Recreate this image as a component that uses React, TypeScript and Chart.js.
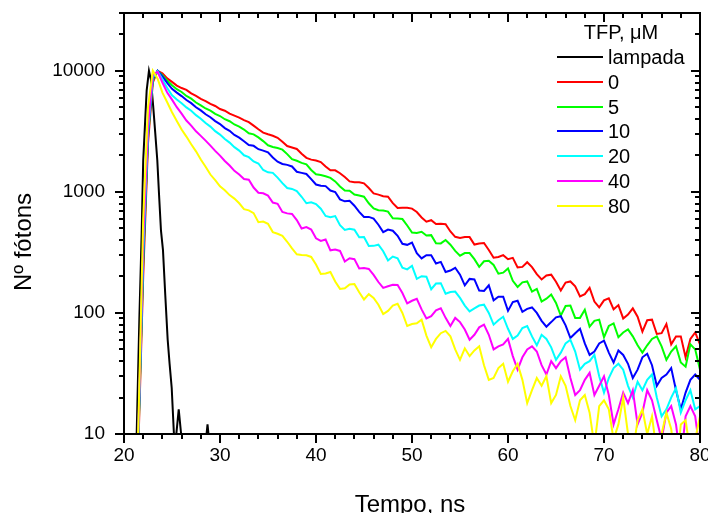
import { useEffect, useRef } from 'react';
import { Chart, registerables } from 'chart.js';
Chart.register(...registerables);

// Time axis (ns) for the sample curves
const time = [
  21.0, 21.5, 22.0, 22.5, 23.0, 23.5, 24.0, 24.5, 25.0, 25.5,
  26.0, 26.5, 27.0, 27.5, 28.0, 28.5, 29.0, 29.5, 30.0, 30.5,
  31.0, 31.5, 32.0, 32.5, 33.0, 33.5, 34.0, 34.5, 35.0, 35.5,
  36.0, 36.5, 37.0, 37.5, 38.0, 38.5, 39.0, 39.5, 40.0, 40.5,
  41.0, 41.5, 42.0, 42.5, 43.0, 43.5, 44.0, 44.5, 45.0, 45.5,
  46.0, 46.5, 47.0, 47.5, 48.0, 48.5, 49.0, 49.5, 50.0, 50.5,
  51.0, 51.5, 52.0, 52.5, 53.0, 53.5, 54.0, 54.5, 55.0, 55.5,
  56.0, 56.5, 57.0, 57.5, 58.0, 58.5, 59.0, 59.5, 60.0, 60.5,
  61.0, 61.5, 62.0, 62.5, 63.0, 63.5, 64.0, 64.5, 65.0, 65.5,
  66.0, 66.5, 67.0, 67.5, 68.0, 68.5, 69.0, 69.5, 70.0, 70.5,
  71.0, 71.5, 72.0, 72.5, 73.0, 73.5, 74.0, 74.5, 75.0, 75.5,
  76.0, 76.5, 77.0, 77.5, 78.0, 78.5, 79.0, 79.5, 80.0,
];

const tfp0 = [
  1, 8, 200, 2500, 8000, 10000, 9550, 8650, 8100, 7550,
  7200, 6950, 6500, 6200, 5870, 5620, 5330, 5120, 4830, 4680,
  4430, 4260, 4100, 3910, 3760, 3520, 3285, 3085, 2990, 2905,
  2795, 2590, 2390, 2325, 2260, 2065, 1910, 1845, 1815, 1760,
  1620, 1505, 1505, 1425, 1325, 1220, 1200, 1200, 1175, 1075,
  970, 948, 921, 911, 806, 737, 740, 740, 727, 682,
  614, 567, 583, 542, 544, 540, 471, 425, 415, 423,
  423, 367, 374, 378, 331, 286, 290, 300, 278, 285,
  238, 240, 262, 239, 209, 189, 204, 207, 181, 153,
  178, 182, 166, 137, 143, 161, 124, 111, 127, 132,
  107, 116, 90, 97, 109, 93, 70, 87, 88, 67,
  68, 81, 55, 64, 64, 43, 61, 69, 55,
];

const tfp5 = [
  1, 9, 250, 2800, 8300, 10000, 9200, 8300, 7600, 7050,
  6680, 6200, 5880, 5470, 5180, 4880, 4680, 4400, 4230, 3980,
  3830, 3600, 3460, 3270, 3045, 2985, 2815, 2625, 2425, 2350,
  2300, 2230, 2050, 1865, 1805, 1735, 1690, 1515, 1395, 1375,
  1345, 1305, 1220, 1108, 1024, 1023, 951, 934, 912, 805,
  729, 704, 700, 687, 605, 601, 596, 527, 461, 458,
  468, 436, 439, 376, 375, 400, 366, 325, 297, 312,
  312, 278, 240, 267, 270, 249, 211, 215, 233, 184,
  164, 179, 182, 150, 158, 124, 131, 142, 121, 95,
  114, 115, 91, 91, 106, 77, 86, 88, 63, 78,
  82, 63, 69, 73, 64, 54, 47, 54, 61, 64,
  53, 41, 48, 53, 39, 36, 55, 50, 34,
];

const tfp10 = [
  1, 10, 280, 3000, 8600, 10000, 9000, 7950, 7100, 6600,
  6180, 5740, 5400, 5000, 4710, 4370, 4130, 3840, 3630, 3360,
  3190, 2950, 2800, 2615, 2440, 2400, 2250, 2190, 2120, 1920,
  1775, 1700, 1670, 1620, 1465, 1435, 1405, 1275, 1150, 1125,
  1115, 1026, 997, 867, 835, 843, 768, 684, 620, 621,
  602, 535, 465, 488, 477, 434, 372, 365, 381, 311,
  282, 300, 300, 256, 264, 218, 224, 236, 207, 169,
  191, 189, 153, 152, 169, 127, 136, 136, 104, 123,
  126, 102, 108, 111, 100, 86, 77, 84, 92, 94,
  79, 62, 68, 74, 56, 45, 48, 56, 59, 47,
  39, 49, 45, 38, 29, 34, 43, 46, 37, 25,
  29, 31, 35, 23, 16, 22, 28, 31, 28,
];

const tfp20 = [
  1, 10, 320, 3200, 8800, 9900, 8500, 7200, 6280, 5780,
  5400, 4980, 4670, 4300, 4020, 3700, 3460, 3170, 2970, 2730,
  2550, 2340, 2190, 2005, 1935, 1785, 1715, 1515, 1450, 1435,
  1310, 1180, 1075, 1057, 1014, 911, 805, 820, 792, 725,
  632, 616, 631, 531, 484, 496, 487, 422, 424, 357,
  358, 366, 323, 271, 292, 283, 236, 229, 245, 191,
  201, 199, 157, 175, 176, 144, 149, 150, 133, 115,
  103, 109, 115, 117, 100, 80, 87, 93, 74, 61,
  65, 75, 78, 64, 54, 66, 61, 52, 41, 47,
  56, 60, 48, 34, 38, 40, 45, 30, 22, 29,
  35, 38, 34, 25, 20, 27, 23, 28, 31, 20,
  14, 16, 20, 24, 15, 19, 23, 16, 17,
];

const tfp40 = [
  1, 11, 400, 3500, 9300, 9800, 8000, 6600, 5780, 5000,
  4420, 3880, 3520, 3160, 2900, 2650, 2410, 2180, 1990, 1800,
  1650, 1490, 1390, 1275, 1260, 1085, 984, 972, 931, 816,
  797, 683, 664, 657, 584, 498, 512, 488, 413, 393,
  404, 329, 334, 325, 266, 283, 278, 233, 235, 231,
  206, 180, 161, 166, 171, 170, 146, 120, 126, 131,
  107, 90, 94, 105, 109, 91, 78, 91, 84, 73,
  60, 66, 76, 80, 66, 50, 53, 55, 61, 44,
  34, 43, 50, 53, 48, 37, 31, 40, 35, 40,
  43, 29, 21, 23, 28, 32, 21, 25, 30, 21,
  12, 16, 22, 18, 23, 12, 15, 23, 19, 13,
  9, 15, 17, 12, 6, 14, 17, 14, 7,
];

const tfp80 = [
  1, 12, 600, 5000, 10000, 8600, 6600, 5500, 4550, 3850,
  3270, 2860, 2470, 2160, 1850, 1610, 1390, 1250, 1110, 1030,
  940, 880, 805, 719, 703, 667, 562, 569, 544, 465,
  451, 433, 387, 341, 305, 301, 299, 290, 251, 210,
  212, 218, 182, 158, 160, 172, 173, 148, 129, 143,
  133, 117, 98, 104, 115, 119, 100, 78, 81, 82,
  88, 65, 52, 61, 68, 71, 64, 50, 41, 51,
  44, 49, 53, 37, 28, 29, 35, 38, 27, 33,
  38, 28, 18, 23, 29, 25, 30, 18, 21, 30,
  25, 17, 13, 19, 21, 15, 8, 17, 19, 16,
  9, 12, 20, 10, 7, 13, 16, 10, 14, 7,
  10, 15, 11, 5, 12, 13, 7, 9, 14,
];

// Lamp (instrument response)
const lampTime = [
  21.0, 21.32, 21.6, 21.84, 22.0, 22.2, 22.36, 22.6, 22.8, 23.05,
  23.25, 23.47, 23.65, 23.85, 24.06, 24.3, 24.55, 24.75, 24.97, 25.2,
  25.45, 25.7, 25.95, 26.5, 27.0, 27.5, 28.0, 28.6, 28.7, 28.8, 29.2,
];
const lampCounts = [
  1, 10, 90, 454, 1815, 3800, 6855, 10000, 8500, 4990,
  3100, 1815, 950, 480, 330, 140, 60, 38, 24, 10,
  10, 16, 10, 10, 9, 10, 10, 10, 12, 10, 8,
];

const seriesLabels = ['lampada', '0', '5', '10', '20', '40', '80'];
const seriesColors = ['#000000', '#ff0000', '#00ff00', '#0000ff', '#00ffff', '#ff00ff', '#ffff00'];
const seriesTimes = [lampTime, time, time, time, time, time, time];
const seriesValues = [lampCounts, tfp0, tfp5, tfp10, tfp20, tfp40, tfp80];

const legendTitle = 'TFP, μM';
const xTitle = 'Tempo, ns';
const yTitle = 'Nº fótons';

const xMajorTicks = [20, 30, 40, 50, 60, 70, 80];
const xMinorTicks = [22, 24, 26, 28, 32, 34, 36, 38, 42, 44, 46, 48, 52, 54, 56, 58, 62, 64, 66, 68, 72, 74, 76, 78];
const yMajorTicks = [10, 100, 1000, 10000];
const yMinorTicks = [
  20, 30, 40, 50, 60, 70, 80, 90,
  200, 300, 400, 500, 600, 700, 800, 900,
  2000, 3000, 4000, 5000, 6000, 7000, 8000, 9000,
  20000, 30000,
];

const FONT = '"Liberation Sans", Arial, Helvetica, sans-serif';

const framePlugin = {
  id: 'frameTicks',
  afterDatasetsDraw(chart: any) {
    const { ctx, chartArea: a } = chart;
    const xs = chart.scales.x;
    const ys = chart.scales.y;
    const L = Math.round(a.left), R = Math.round(a.right), T = Math.round(a.top), B = Math.round(a.bottom);
    ctx.save();
    ctx.strokeStyle = '#000';
    ctx.lineWidth = 2;
    ctx.lineCap = 'butt';
    ctx.strokeRect(L, T, R - L, B - T);
    const major = 9, minor = 5;
    ctx.beginPath();
    const xt = (v: number, len: number) => {
      const p = Math.round(xs.getPixelForValue(v));
      ctx.moveTo(p, B); ctx.lineTo(p, B + len);
      ctx.moveTo(p, T); ctx.lineTo(p, T + len);
    };
    const yt = (v: number, len: number) => {
      const p = Math.round(ys.getPixelForValue(v));
      ctx.moveTo(L, p); ctx.lineTo(L - len, p);
      ctx.moveTo(R, p); ctx.lineTo(R - len, p);
    };
    xMajorTicks.forEach((v) => xt(v, major));
    xMinorTicks.forEach((v) => xt(v, minor));
    yMajorTicks.forEach((v) => yt(v, major));
    yMinorTicks.forEach((v) => yt(v, minor));
    ctx.stroke();
    ctx.restore();
  },
  afterDraw(chart: any) {
    const { ctx } = chart;
    ctx.save();
    ctx.fillStyle = '#000';
    // axis titles
    ctx.font = `24px ${FONT}`;
    ctx.textAlign = 'center';
    ctx.textBaseline = 'alphabetic';
    ctx.fillText(xTitle, 410, 512);
    ctx.save();
    ctx.translate(31, 242);
    ctx.rotate(-Math.PI / 2);
    ctx.fillText(yTitle, 0, 0);
    ctx.restore();
    // legend
    ctx.font = `20px ${FONT}`;
    ctx.textBaseline = 'middle';
    ctx.textAlign = 'center';
    ctx.fillText(legendTitle, 621, 33);
    ctx.textAlign = 'left';
    const y0 = 57, step = 24.8;
    seriesLabels.forEach((lab, i) => {
      const y = Math.round(y0 + i * step);
      ctx.strokeStyle = seriesColors[i];
      ctx.lineWidth = 2;
      ctx.beginPath();
      ctx.moveTo(557, y);
      ctx.lineTo(603, y);
      ctx.stroke();
      ctx.fillStyle = '#000';
      ctx.fillText(lab, 608, y + 1);
    });
    ctx.restore();
  },
};

export default function App() {
  const ref = useRef<HTMLCanvasElement>(null);
  useEffect(() => {
    const canvas = ref.current;
    if (!canvas) return;
    const n = seriesLabels.length;
    const chart = new Chart(canvas, {
      type: 'line',
      data: {
        datasets: seriesLabels.map((label, i) => ({
          label,
          data: seriesTimes[i].map((t, j) => ({ x: t, y: seriesValues[i][j] })),
          borderColor: seriesColors[i],
          backgroundColor: seriesColors[i],
          borderWidth: 2,
          pointRadius: 0,
          tension: 0,
          fill: false,
          order: n - i,
        })),
      },
      options: {
        animation: false,
        responsive: false,
        events: [],
        layout: { padding: { top: 13, right: 8, left: 0, bottom: 0 } },
        plugins: { legend: { display: false }, tooltip: { enabled: false } },
        scales: {
          x: {
            type: 'linear',
            min: 20,
            max: 80,
            afterBuildTicks: (s: any) => {
              s.ticks = xMajorTicks.map((v) => ({ value: v }));
            },
            afterFit: (s: any) => {
              s.height = 79;
              s.paddingLeft = 0;
              s.paddingRight = 0;
            },
            grid: { display: false, drawTicks: false },
            border: { display: false },
            ticks: {
              font: { family: FONT, size: 19 },
              color: '#000',
              padding: 10,
              maxRotation: 0,
              autoSkip: false,
              callback: (v: any) => String(v),
            },
          },
          y: {
            type: 'logarithmic',
            min: 10,
            max: 30000,
            afterBuildTicks: (s: any) => {
              s.ticks = yMajorTicks.map((v) => ({ value: v }));
            },
            afterFit: (s: any) => {
              s.width = 124;
              s.paddingTop = 0;
              s.paddingBottom = 0;
            },
            grid: { display: false, drawTicks: false },
            border: { display: false },
            ticks: {
              font: { family: FONT, size: 19 },
              color: '#000',
              padding: 19,
              autoSkip: false,
              callback: (v: any) => String(v),
            },
          },
        },
      } as any,
      plugins: [framePlugin],
    });
    return () => chart.destroy();
  }, []);
  return (
    <div style={{ position: 'absolute', left: 0, top: 0, width: 708, height: 513, background: '#fff' }}>
      <canvas ref={ref} width={708} height={513} style={{ display: 'block', width: 708, height: 513 }} />
    </div>
  );
}
